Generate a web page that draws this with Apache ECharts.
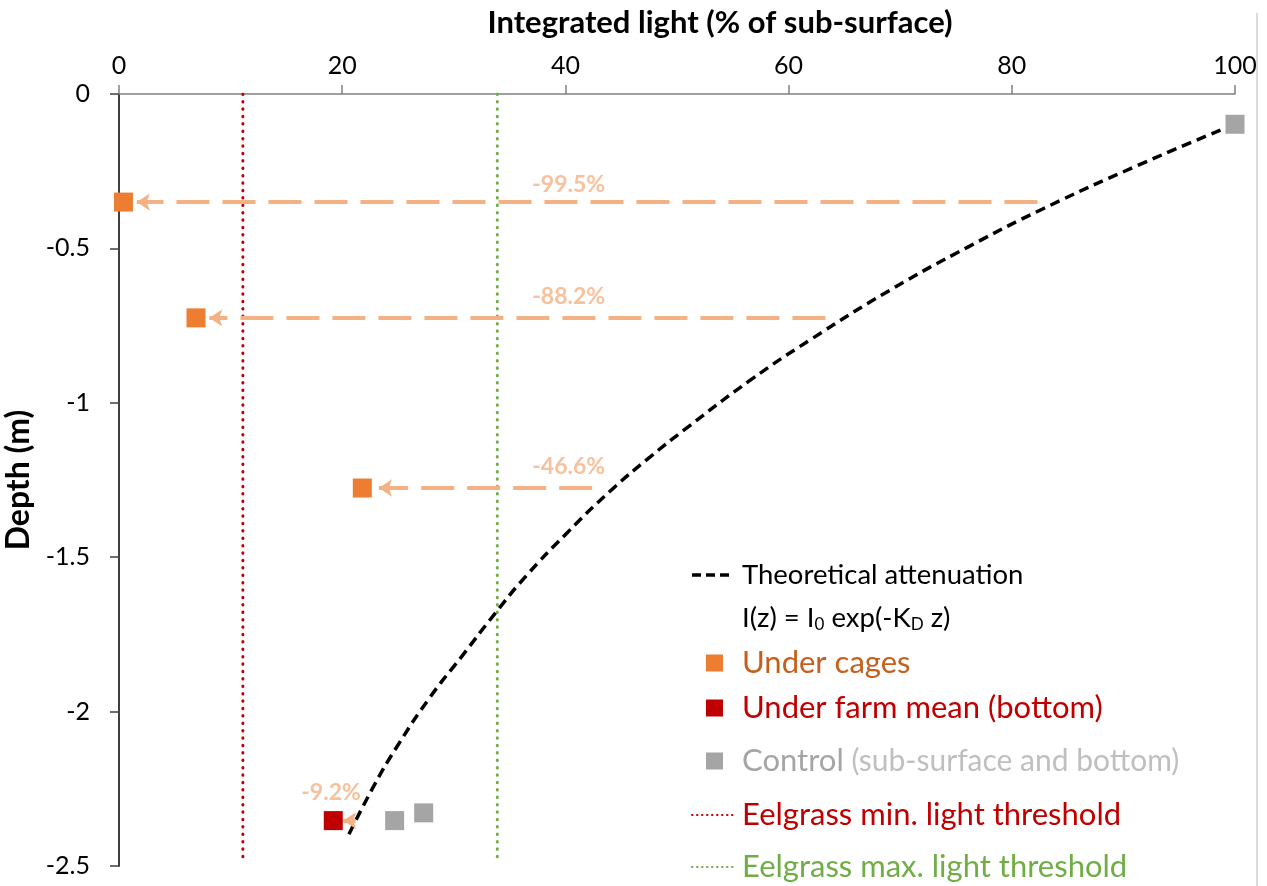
<!DOCTYPE html>
<html><head><meta charset="utf-8">
<script src="https://cdn.jsdelivr.net/npm/echarts@6/dist/echarts.min.js"></script>
<style>html,body{margin:0;padding:0;background:#fff}#c{width:1267px;height:886px}</style>
</head><body><div id="c"></div>
<script>
// ---- data ----
const xTicks = [0, 20, 40, 60, 80, 100];
const yTicks = [0, -0.5, -1, -1.5, -2, -2.5];
const curveLight = [98.7, 91.0, 82.9, 76.1, 69.1, 61.9, 56.6, 51.0, 47.6, 44.1, 40.1, 36.4, 33.7, 30.7, 27.9, 24.9, 22.8, 20.5];
const curveDepth = [-0.117, -0.236, -0.370, -0.495, -0.635, -0.797, -0.926, -1.078, -1.175, -1.283, -1.423, -1.564, -1.682, -1.822, -1.952, -2.114, -2.243, -2.405];
const cagesLight = [0.4, 6.9, 21.8];
const cagesDepth = [-0.350, -0.725, -1.276];
const farmLight = [19.2];
const farmDepth = [-2.353];
const controlLight = [100, 24.7, 27.3];
const controlDepth = [-0.098, -2.353, -2.328];
const arrowFrom = [82.3, 63.3, 42.4, 21.2];
const arrowTo = [1.6, 8.1, 23.3, 20.1];
const arrowDepth = [-0.350, -0.725, -1.276, -2.353];
const changeLabels = ['-99.5%', '-88.2%', '-46.6%', '-9.2%'];
const labelLight = [40.3, 40.3, 40.3, 19.0];
const labelDepth = [-0.292, -0.655, -1.207, -2.261];
const thresholdMin = 11.1;
const thresholdMax = 33.9;
const thresholdDepthRange = [0, -2.49];

// ---- styles ----
const FONT = 'Lato, "Open Sans", sans-serif';
const C_ORANGE = '#ED7D31', C_ARROW = '#F4B183', C_RED = '#C00000', C_GRAY = '#A5A5A5', C_GREEN = '#70AD47';

const chart = echarts.init(document.getElementById('c'), null, {renderer: 'canvas'});

const pairs = (xs, ys) => xs.map((x, i) => [x, ys[i]]);
const sq = (xs, ys, color) => ({
  type: 'scatter', data: pairs(xs, ys), symbol: 'rect', symbolSize: 19, z: 5,
  itemStyle: {color: color, opacity: 1}, silent: true
});
const vline = (x, color) => ({
  type: 'line', data: [[x, thresholdDepthRange[0]], [x, thresholdDepthRange[1]]], showSymbol: false, z: 1,
  lineStyle: {color: color, width: 3, type: [0.5, 6.9], cap: 'round'}, silent: true
});

const option = {
  animation: false,
  textStyle: {fontFamily: FONT},
  grid: {left: 119, top: 94, right: 32, bottom: 20, containLabel: false, outerBoundsMode: 'none'},
  xAxis: {
    type: 'value', position: 'top', min: xTicks[0], max: xTicks[xTicks.length - 1], interval: xTicks[1] - xTicks[0],
    name: 'Integrated light (% of sub-surface)', nameLocation: 'middle', nameGap: 56,
    nameTextStyle: {fontFamily: FONT, fontSize: 31, fontWeight: 'bold', color: '#000', padding: [0, 0, 0, 86]},
    axisLine: {show: true, lineStyle: {color: '#808080', width: 1.5}},
    axisTick: {show: true, length: 9, lineStyle: {color: '#808080', width: 1.5}},
    axisLabel: {fontFamily: FONT, fontSize: 25, color: '#000', margin: 16},
    splitLine: {show: false}
  },
  yAxis: {
    type: 'value', min: yTicks[yTicks.length - 1], max: yTicks[0], interval: yTicks[0] - yTicks[1],
    name: 'Depth (m)', nameLocation: 'middle', nameGap: 73, nameRotate: 90,
    nameTextStyle: {fontFamily: FONT, fontSize: 32, fontWeight: 'bold', color: '#000'},
    axisLine: {show: true, onZero: false, lineStyle: {color: '#404040', width: 2}},
    axisTick: {show: true, length: 9, lineStyle: {color: '#404040', width: 1.5}},
    axisLabel: {fontFamily: FONT, fontSize: 25, color: '#000', margin: 29},
    splitLine: {show: false}
  },
  series: [
    vline(thresholdMin, C_RED),
    vline(thresholdMax, C_GREEN),
    {
      type: 'line', data: pairs(curveLight, curveDepth), showSymbol: false, smooth: 0.5, z: 2, silent: true,
      lineStyle: {color: '#000', width: 3.5, type: [10, 6]}
    },
    {
      type: 'lines', coordinateSystem: 'cartesian2d', z: 3, silent: true,
      symbol: ['none', 'arrow'], symbolSize: 13,
      lineStyle: {color: C_ARROW, width: 4, type: [33, 13], opacity: 1, curveness: 0},
      data: arrowFrom.map((f, i) => ({coords: [[f, arrowDepth[i]], [arrowTo[i], arrowDepth[i]]]}))
    },
    sq(cagesLight, cagesDepth, C_ORANGE),
    sq(farmLight, farmDepth, C_RED),
    sq(controlLight, controlDepth, C_GRAY),
    {
      type: 'scatter', symbolSize: 0, z: 6, silent: true,
      data: labelLight.map((x, i) => ({value: [x, labelDepth[i]], name: changeLabels[i]})),
      label: {show: true, position: 'inside', formatter: p => p.name, fontFamily: FONT, fontSize: 23, fontWeight: 'bold', color: C_ARROW}
    }
  ],
  graphic: [
    {type: 'line', shape: {x1: 1257, y1: 13, x2: 1257, y2: 886}, style: {stroke: '#dcdcdc', lineWidth: 2}, silent: true},
    {type: 'line', shape: {x1: 692, y1: 575, x2: 733, y2: 575}, style: {stroke: '#000', lineWidth: 3.5, lineDash: [9, 5]}},
    {type: 'text', x: 742, y: 575, style: {text: 'Theoretical attenuation', fontFamily: FONT, fontSize: 27.5, fill: '#000', verticalAlign: 'middle'}},
    {type: 'text', x: 742, y: 618, style: {
      text: '{n|I(z) = I}{s|0}{n| exp(-K}{s|D}{n| z)}', fontFamily: FONT, verticalAlign: 'middle',
      rich: {n: {fontSize: 27.5, fill: '#000', fontFamily: FONT}, s: {fontSize: 17, fill: '#000', fontFamily: FONT, padding: [14, 0, 0, 0]}}
    }},
    {type: 'rect', shape: {x: 706, y: 654.5, width: 17, height: 17}, style: {fill: C_ORANGE}},
    {type: 'text', x: 742, y: 663, style: {text: 'Under cages', fontFamily: FONT, fontSize: 31, fill: '#C65F1C', verticalAlign: 'middle'}},
    {type: 'rect', shape: {x: 706, y: 699.5, width: 17, height: 17}, style: {fill: C_RED}},
    {type: 'text', x: 742, y: 708, style: {text: 'Under farm mean (bottom)', fontFamily: FONT, fontSize: 31, fill: C_RED, verticalAlign: 'middle'}},
    {type: 'rect', shape: {x: 706, y: 752.5, width: 17, height: 17}, style: {fill: C_GRAY}},
    {type: 'text', x: 742, y: 761, style: {
      text: '{a|Control}{b| (sub-surface and bottom)}', verticalAlign: 'middle', fontFamily: FONT,
      rich: {a: {fontSize: 31, fill: '#A5A5A5', fontFamily: FONT}, b: {fontSize: 30, fill: '#BFBFBF', fontFamily: FONT}}
    }},
    {type: 'line', shape: {x1: 692, y1: 815, x2: 733, y2: 815}, style: {stroke: C_RED, lineWidth: 2, lineDash: [0.5, 4.5], lineCap: 'round'}},
    {type: 'text', x: 742, y: 815, style: {text: 'Eelgrass min. light threshold', fontFamily: FONT, fontSize: 31, fill: C_RED, verticalAlign: 'middle'}},
    {type: 'line', shape: {x1: 692, y1: 867, x2: 733, y2: 867}, style: {stroke: C_GREEN, lineWidth: 2, lineDash: [0.5, 4.5], lineCap: 'round'}},
    {type: 'text', x: 742, y: 867, style: {text: 'Eelgrass max. light threshold', fontFamily: FONT, fontSize: 31, fill: C_GREEN, verticalAlign: 'middle'}}
  ]
};
chart.setOption(option);
</script>
</body></html>
